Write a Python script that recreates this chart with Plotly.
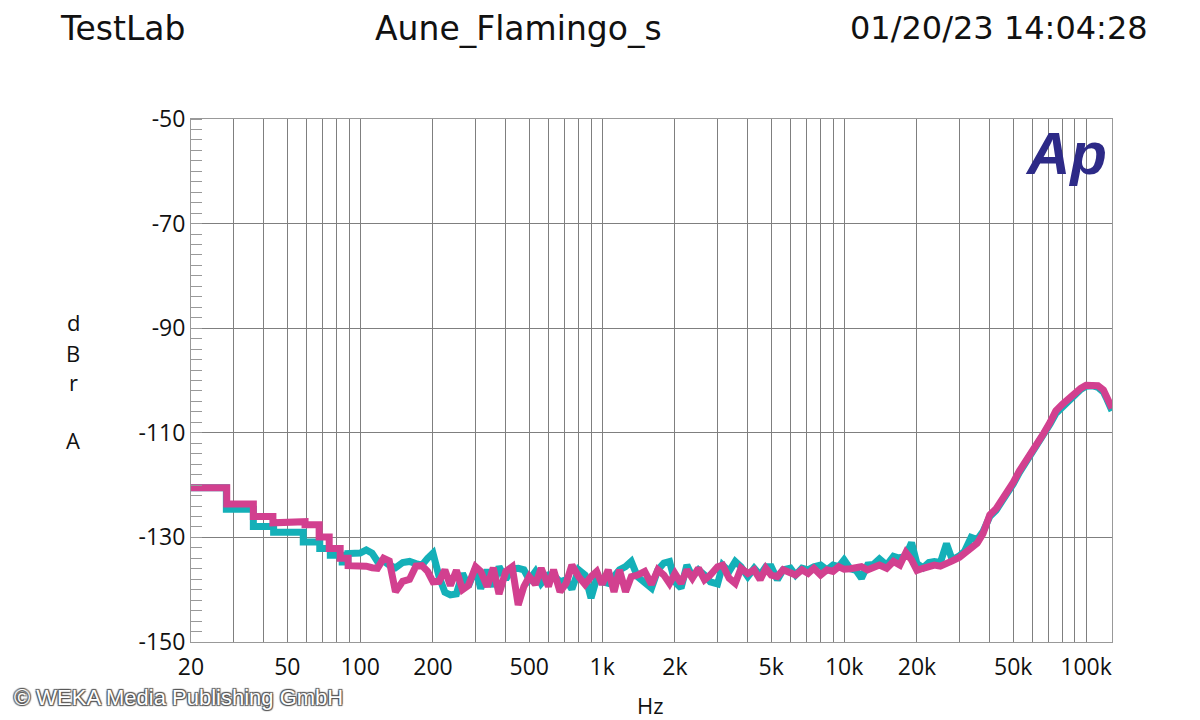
import math
import plotly.graph_objects as go

# ---------------- data ----------------
# low-frequency stepped portion (Hz, dBr A)
cyan_low_freq = [20, 28.0, 28.0, 36.2, 36.2, 43.9, 43.9, 58.2, 58.2, 68.1, 68.1, 75.3, 75.3, 84.3, 84.3, 89, 89]
cyan_low_db = [-120.5, -120.5, -124.6, -124.6, -127.9, -127.9, -129.0, -129.0, -130.9, -130.9,
               -132.1, -132.1, -133.4, -133.4, -134.7, -134.7, -133.1]

magenta_low_freq = [20, 28.1, 28.1, 36.2, 36.2, 43.6, 43.6, 51.3, 51.3, 59.2, 59.2, 67.7, 67.7, 74.5, 74.5,
                    82.7, 82.7, 89.2, 89.2]
magenta_low_db = [-120.5, -120.5, -123.6, -123.6, -126.0, -126.0, -127.2, -127.2, -127.0, -127.0,
                  -127.6, -127.6, -129.9, -129.9, -132.1, -132.1, -134.0, -134.0, -135.4]

# shared frequency grid above 100 Hz
freq_grid = [
    100, 106, 112, 118, 125, 132, 140, 150, 160, 170, 180, 190, 200, 212, 224, 236, 250, 265, 280, 300,
    315, 335, 355, 375, 400, 425, 450, 475, 500, 530, 560, 600, 630, 670, 710, 750, 800, 850, 900, 950,
    1000, 1060, 1120, 1180, 1250, 1320, 1400, 1500, 1600, 1700, 1800, 1900, 2000, 2120, 2240, 2360, 2500, 2650, 2800, 3000,
    3150, 3350, 3550, 3750, 4000, 4250, 4500, 4750, 5000, 5300, 5600, 6000, 6300, 6700, 7100, 7500, 8000, 8500, 9000, 9500,
    10000, 10600, 11200, 11800, 12500, 13200, 14000, 15000, 16000, 17000, 18000, 19000, 20000, 21200, 22400, 23600, 25000, 26500, 28000, 30000,
    31500, 33500, 35500, 37500, 40000, 42500, 45000, 47500, 50000, 53000, 56000, 60000, 63000, 67000, 71000, 75000, 80000, 85000, 90000, 95000,
    100000, 106000, 112000, 118000, 122000, 128000,
]

cyan_db = [
    -133.0, -132.4, -133.0, -134.6, -134.5, -135.3, -135.8, -134.8, -134.6, -135.0,
    -135.3, -134.0, -133.0, -137.5, -140.5, -141.0, -140.8, -136.9, -139.4, -135.9,
    -139.8, -136.2, -139.4, -135.6, -138.0, -136.0, -135.9, -136.2, -138.1, -136.5,
    -138.8, -137.2, -137.2, -138.5, -138.1, -139.9, -136.2, -137.2, -141.6, -137.8,
    -138.5, -138.8, -137.5, -136.2, -135.6, -134.6, -137.5, -138.8, -139.7, -136.2,
    -134.9, -134.6, -138.5, -139.7, -135.3, -137.5, -136.2, -137.2, -138.5, -138.9,
    -135.3, -136.5, -134.6, -135.6, -137.5, -135.9, -137.2, -135.6, -135.6, -138.1,
    -136.2, -135.9, -137.2, -135.9, -136.2, -135.6, -135.3, -136.2, -135.3, -135.6,
    -134.3, -136.0, -136.3, -137.8, -135.3, -135.2, -134.1, -135.3, -133.6, -134.0,
    -133.5, -131.0, -135.0, -135.8, -134.8, -134.6, -134.8, -131.2, -134.3, -133.5,
    -132.6, -130.0, -130.4, -128.9, -126.0, -124.8, -123.1, -121.6, -119.8, -117.6,
    -115.9, -113.7, -112.3, -110.3, -108.3, -106.3, -105.0, -103.7, -102.6, -101.7,
    -101.1, -101.0, -101.3, -102.2, -103.6, -105.8,
]

magenta_db = [
    -135.4, -135.5, -135.8, -135.9, -134.0, -134.5, -140.4, -138.4, -138.0, -135.5,
    -135.4, -136.5, -138.5, -138.4, -136.2, -139.2, -136.3, -140.0, -139.2, -135.6,
    -136.5, -139.4, -135.8, -140.8, -136.5, -135.6, -142.9, -139.4, -137.5, -139.0,
    -135.9, -139.4, -136.2, -140.4, -138.8, -135.3, -137.5, -139.0, -137.5, -136.5,
    -139.0, -136.2, -140.4, -136.2, -140.4, -137.5, -137.2, -136.5, -139.0, -136.2,
    -137.2, -138.8, -136.9, -138.8, -136.2, -137.8, -135.9, -138.1, -137.2, -135.6,
    -135.3, -137.8, -138.8, -135.9, -136.9, -136.2, -138.1, -135.9, -137.2, -137.5,
    -136.2, -136.9, -137.2, -136.2, -136.9, -135.9, -137.2, -136.2, -136.5, -135.6,
    -136.1, -136.0, -135.8, -135.6, -136.2, -135.6, -135.3, -135.9, -134.6, -135.3,
    -132.9, -134.3, -136.3, -135.9, -135.5, -135.3, -135.5, -135.1, -134.5, -133.8,
    -133.1, -132.1, -131.1, -129.3, -125.7, -124.5, -122.8, -121.3, -119.5, -117.3,
    -115.7, -113.4, -111.9, -110.0, -108.0, -105.8, -104.5, -103.3, -102.3, -101.5,
    -100.9, -100.8, -101.0, -101.8, -103.0, -105.3,
]

assert len(cyan_db) == len(freq_grid) and len(magenta_db) == len(freq_grid)

x_tick_vals = [20, 30, 40, 50, 60, 70, 80, 90,
               100, 200, 300, 400, 500, 600, 700, 800, 900,
               1000, 2000, 3000, 4000, 5000, 6000, 7000, 8000, 9000,
               10000, 20000, 30000, 40000, 50000, 60000, 70000, 80000, 90000,
               100000]
x_tick_labels = {20: "20", 50: "50", 100: "100", 200: "200", 500: "500", 1000: "1k", 2000: "2k",
                 5000: "5k", 10000: "10k", 20000: "20k", 50000: "50k", 100000: "100k"}
y_tick_vals = [-50, -70, -90, -110, -130, -150]
y_tick_labels = ["-50", "-70", "-90", "-110", "-130", "-150"]

# ---------------- figure ----------------
CYAN = "#14B0B8"
MAGENTA = "#D2408F"
GRID = "#7f7f7f"
FONT = "Open Sans"

fig = go.Figure()
fig.add_trace(go.Scatter(x=cyan_low_freq + freq_grid, y=cyan_low_db + cyan_db, mode="lines",
                         line=dict(color=CYAN, width=7), showlegend=False, hoverinfo="skip"))
fig.add_trace(go.Scatter(x=magenta_low_freq + freq_grid, y=magenta_low_db + magenta_db, mode="lines",
                         line=dict(color=MAGENTA, width=7), showlegend=False, hoverinfo="skip"))

# page body has an 8px margin: work in figure coordinates = screen - 8
OFF = 8
W, H = 1192, 712
L, T, R, B = 191 - OFF, 119 - OFF, 1112 - OFF, 642 - OFF


def px(x, y):
    # screen pixel -> paper coordinates
    x, y = x - OFF, y - OFF
    return (x - L) / (R - L), (B - y) / (B - T)


annotations = []


def add_text(text, x, y, size, xanchor="center", color="#111", **font_kw):
    xp, yp = px(x, y)
    annotations.append(dict(text=text, x=xp, y=yp, xref="paper", yref="paper", showarrow=False,
                            xanchor=xanchor, yanchor="middle",
                            font=dict(family=font_kw.pop("family", FONT), size=size, color=color, **font_kw)))


add_text("TestLab", 58, 28, 33, xanchor="left", family="DejaVu Sans")
add_text("Aune_Flamingo_s", 518, 28, 33, family="DejaVu Sans")
add_text("01/20/23 14:04:28", 1150, 28, 32, xanchor="right", family="DejaVu Sans")
for ch, yy in [("d", 322), ("B", 353), ("r", 382), ("A", 440)]:
    add_text(ch, 73, yy, 22)
add_text("Hz", 650, 705, 22)
add_text("Ap", 1066, 153, 60, color="#2D2A87", family="Liberation Sans", weight="bold", style="italic")
add_text("© WEKA Media Publishing GmbH", 12, 697, 22, xanchor="left", color="#ffffff",
         family="Liberation Sans",
         shadow="1px 1px 1px #555, -1px -1px 1px #555, 1px -1px 1px #555, -1px 1px 1px #555")

fig.update_layout(
    width=W, height=H,
    margin=dict(l=L, r=W - R, t=T, b=H - B, pad=0),
    paper_bgcolor="white", plot_bgcolor="white",
    showlegend=False,
    annotations=annotations,
    font=dict(family=FONT, color="#111", size=21),
    xaxis=dict(type="log", range=[math.log10(20), math.log10(128000)],
               tickmode="array", tickvals=x_tick_vals,
               ticktext=[x_tick_labels.get(v, "") for v in x_tick_vals],
               showgrid=True, gridcolor=GRID, gridwidth=1,
               showline=True, linecolor="#999", linewidth=1, mirror=True,
               ticks="", ticklen=0, zeroline=False, ticklabelstandoff=4,
               tickfont=dict(size=23, family=FONT, color="#111")),
    yaxis=dict(range=[-150, -50], tickmode="array", tickvals=y_tick_vals, ticktext=y_tick_labels,
               showgrid=True, gridcolor=GRID, gridwidth=1,
               showline=True, linecolor="#999", linewidth=1, mirror=True,
               ticks="", zeroline=False,
               tickfont=dict(size=23, family=FONT, color="#111")),
)
fig.update_yaxes(minor=dict(dtick=2, tick0=-50, ticks="inside", ticklen=11, tickcolor="#999",
                            tickwidth=1, showgrid=False))

fig.write_html("out.html")
